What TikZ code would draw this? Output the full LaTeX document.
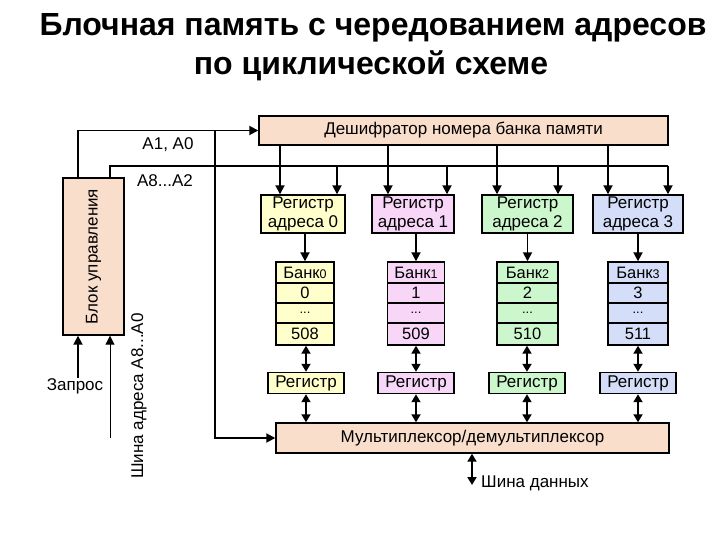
\documentclass[tikz,border=0pt]{standalone}
\usepackage{fontspec}
\setmainfont{Liberation Sans}
\usetikzlibrary{arrows.meta}
\definecolor{peach}{RGB}{250,222,204}
\definecolor{byel}{RGB}{255,255,204}
\definecolor{bpink}{RGB}{248,214,248}
\definecolor{bgreen}{RGB}{204,247,204}
\definecolor{bblue}{RGB}{212,222,248}
\begin{document}
\begin{tikzpicture}[x=1pt,y=-1pt,
  box/.style={draw=black,line width=1.4pt,inner sep=0pt,font=\fontsize{17}{19}\selectfont},
  bankcell/.style={box,font=\fontsize{16.5}{18}\selectfont},
  conn/.style={line width=1.8pt,-{Triangle[length=9pt,width=9pt]}},
  thinconn/.style={line width=1pt,-{Triangle[length=9pt,width=9pt]}},
  dconn/.style={line width=1.8pt,{Triangle[length=8pt,width=9pt]}-{Triangle[length=8pt,width=9pt]}},
  plain/.style={line width=1.8pt},
  lbl/.style={inner sep=0pt,font=\fontsize{17}{19}\selectfont},
  ttl/.style={inner sep=0pt,font=\fontsize{32}{36}\selectfont\bfseries}
  ]
\useasboundingbox (0,0) rectangle (720,540);

% title
\node[ttl] (t1) at (373,28) {Блочная память с чередованием адресов};
\node[ttl] (t2) at (371,66) {по циклической схеме};

% control block and decoder
\node[box,fill=peach,rotate=90,minimum width=157pt,minimum height=61pt] (ctrl) at (93.5,256.5) {Блок управления};
\node[box,fill=peach,minimum width=409pt,minimum height=29pt] (dec) at (463.5,130.5) {Дешифратор номера банка памяти};

% address registers
\node[box,fill=byel,minimum width=84pt,minimum height=38pt,align=center] (ra0) at (303,214) {Регистр\\адреса 0};
\node[box,fill=bpink,minimum width=82pt,minimum height=38pt,align=center] (ra1) at (413,214) {Регистр\\адреса 1};
\node[box,fill=bgreen,minimum width=91pt,minimum height=38pt,align=center] (ra2) at (527.5,214) {Регистр\\адреса 2};
\node[box,fill=bblue,minimum width=90pt,minimum height=38pt,align=center] (ra3) at (638,214) {Регистр\\адреса 3};

% banks
\foreach \k/\xx/\ww/\cc/\fa/\fb in {0/305/58/byel/0/508, 1/416/57/bpink/1/509, 2/527.5/61/bgreen/2/510, 3/638/60/bblue/3/511}{
  \node[bankcell,fill=\cc,minimum width=\ww pt,minimum height=21pt] (bh\k) at (\xx,272.5) {Банк{\fontsize{12.5}{14}\selectfont\k}};
  \node[bankcell,fill=\cc,minimum width=\ww pt,minimum height=20pt] (ba\k) at (\xx,293) {\fa};
  \node[bankcell,fill=\cc,minimum width=\ww pt,minimum height=20pt] (bd\k) at (\xx,313) {\fontsize{13}{14}\selectfont...};
  \node[bankcell,fill=\cc,minimum width=\ww pt,minimum height=22pt] (bb\k) at (\xx,334) {\fb};
}

% data registers
\node[box,fill=byel,minimum width=76pt,minimum height=21pt] (rd0) at (306,383) {Регистр};
\node[box,fill=bpink,minimum width=76pt,minimum height=21pt] (rd1) at (416,383) {Регистр};
\node[box,fill=bgreen,minimum width=76pt,minimum height=21pt] (rd2) at (527,383) {Регистр};
\node[box,fill=bblue,minimum width=76pt,minimum height=21pt] (rd3) at (638,383) {Регистр};

% multiplexer
\node[box,fill=peach,minimum width=393pt,minimum height=30pt] (mux) at (472.5,438) {Мультиплексор/демультиплексор};

% labels
\node[lbl] (la1) at (168,145) {A1, A0};
\node[lbl] (la2) at (165,181) {A8...A2};
\node[lbl] (req) at (75,386) {Запрос};
\node[lbl,rotate=90] (alab) at (139,396) {Шина адреса A8...A0};
\node[lbl,anchor=west] (dlab) at (481,483) {Шина данных};

% helper coordinates
\coordinate (x77) at (78,0);
\coordinate (x110) at (110,0);
\coordinate (x215) at (215,0);
\coordinate (busend) at (668,166);
\coordinate (abus) at (110,438);
\coordinate (dbus) at (472,485);
\coordinate (l0) at (280,0);
\coordinate (l1) at (388,0);
\coordinate (l2) at (497,0);
\coordinate (l3) at (608,0);
\coordinate (r0) at (337,0);
\coordinate (r1) at (447,0);
\coordinate (r2) at (558,0);
\coordinate (r3) at (668,0);

% control -> decoder
\draw[conn] (ctrl.east -| x77) |- (dec.west);
% A8..A2 bus
\draw[plain] (ctrl.east -| x110) |- (busend);
% line to mux
\draw[conn] (x215 |- dec.west) |- (mux.west);

\foreach \k in {0,1,2,3}{
  \draw[conn] (dec.south -| l\k) -- (ra\k.north -| l\k);
  \draw[conn] (busend -| r\k) -- (ra\k.north -| r\k);
  \draw[conn] (bh\k.north |- ra\k.south) -- (bh\k.north);
  \draw[dconn] (bb\k.south -| rd\k) -- (rd\k.north);
  \draw[dconn] (rd\k.south) -- (mux.north -| rd\k);
}

% inputs of control block
\draw[conn] (req.north -| x77) -- (ctrl.west -| x77);
\draw[thinconn] (abus) -- (ctrl.west -| abus);

% data bus
\draw[dconn] (mux.south -| dbus) -- (dbus);
\end{tikzpicture}
\end{document}
